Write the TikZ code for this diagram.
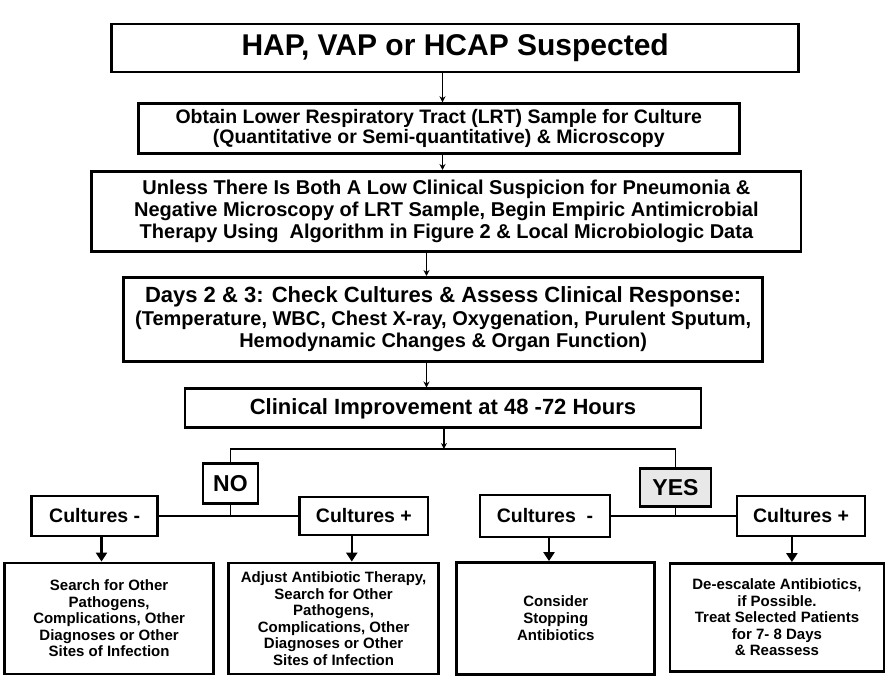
\documentclass[tikz,border=0pt]{standalone}
\usepackage{fontspec}
\setmainfont{Liberation Sans}
\usetikzlibrary{arrows.meta}
\tikzset{
  fz/.style n args={2}{font=\fontsize{#1}{#2}\selectfont\bfseries},
  box/.style={draw, line width=2.8pt, align=center, inner sep=1pt},
  conn/.style={line width=1.6pt},
  tip/.style={-{Stealth[length=6pt,width=6pt]}},
  bigarrow/.style={line width=2.6pt, -{Triangle[width=11pt,length=9pt]}},
}
\begin{document}
\begin{tikzpicture}[x=1pt,y=1pt]
\fill[white] (-446.5,-342) rectangle (446.5,342);
\useasboundingbox (-446.5,-342) rectangle (446.5,342);
% main column
\node[box, fz={30}{32}, minimum width=687, minimum height=48] (b1) at (8.7,293.9) {HAP, VAP or HCAP Suspected};
\node[box, fz={19.5}{20.5}, minimum width=601, minimum height=50] (b2) at (-7.7,213.3)
  {Obtain Lower Respiratory Tract (LRT) Sample for Culture\\(Quantitative or Semi-quantitative) \& Microscopy};
\node[box, fz={20}{22}, minimum width=709, minimum height=80] (b3) at (-0.1,130.6)
  {Unless There Is Both A Low Clinical Suspicion for Pneumonia \&\\Negative Microscopy of LRT Sample, Begin Empiric Antimicrobial\\Therapy Using\ \ Algorithm in Figure 2 \& Local Microbiologic Data};
\node[box, fz={20}{22.5}, minimum width=639, minimum height=84] (b4) at (-3.3,22.6)
  {{\fontsize{22}{22.5}\selectfont Days 2 \& 3: Check Cultures \& Assess Clinical Response:}\\(Temperature, WBC, Chest X-ray, Oxygenation, Purulent Sputum,\\Hemodynamic Changes \& Organ Function)};
\node[box, fz={22}{24}, minimum width=516, minimum height=39] (b5) at (-3.5,-66.4) {Clinical Improvement at 48 -72 Hours};
% decision
\node[box, fz={23}{24}, minimum width=55, minimum height=40] (no) at (-216,-141.5) {NO};
\node[box, fz={23}{24}, fill=gray!18, minimum width=71, minimum height=38] (yes) at (229,-145.8) {YES};
% cultures
\node[box, fz={19.5}{20}, minimum width=126, minimum height=40] (cl) at (-351.8,-174) {Cultures -};
\node[box, fz={19.5}{20}, minimum width=128, minimum height=38] (clp) at (-82.6,-174) {Cultures +};
\node[box, fz={19.5}{20}, minimum width=130, minimum height=42] (crm) at (98.5,-174) {Cultures\ \ -};
\node[box, fz={19.5}{20}, minimum width=128, minimum height=40] (crp) at (354.5,-174) {Cultures +};
% outcomes
\node[box, fz={15}{16.5}, minimum width=209, minimum height=111] (sr) at (-337.4,-276.5)
  {Search for Other\\Pathogens,\\Complications, Other\\Diagnoses or Other\\Sites of Infection};
\node[box, fz={15}{16.5}, minimum width=210, minimum height=111] (adj) at (-112.9,-276.5)
  {Adjust Antibiotic Therapy,\\Search for Other\\Pathogens,\\Complications, Other\\Diagnoses or Other\\Sites of Infection};
\node[box, fz={15}{17}, minimum width=198, minimum height=112] (con) at (109.3,-276.5)
  {Consider\\Stopping\\Antibiotics};
\node[box, fz={15}{16.5}, minimum width=214, minimum height=108] (dee) at (330.5,-275.5)
  {De-escalate Antibiotics,\\if Possible.\\Treat Selected Patients\\for 7- 8 Days\\\& Reassess};
% connector coordinates
\coordinate (c12) at (-4,0);
\coordinate (c34) at (-20,0);
\coordinate (jn) at (-2.6,-107);
\coordinate (a1) at (-345,0);
\coordinate (a2) at (-94.7,0);
\coordinate (a3) at (102.5,0);
\coordinate (a4) at (345.4,0);
% main column connectors
\draw[conn, tip] (b1.south -| c12) -- (b2.north -| c12);
\draw[conn, tip] (b2.south -| c12) -- (b3.north -| c12);
\draw[conn, tip] (b3.south -| c34) -- (b4.north -| c34);
\draw[conn, tip] (b4.south -| c34) -- (b5.north -| c34);
\draw[conn, tip] (b5.south -| jn) -- (jn);
\draw[conn] (no.north) |- (jn) -| (yes.north);
% branches
\draw[conn] (cl.east) -- (clp.west);
\draw[conn] (no.south) -- (no.south |- cl.east);
\draw[conn] (crm.east) -- (crp.west);
\draw[conn] (yes.south) -- (yes.south |- crm.east);
% outcome arrows
\draw[bigarrow] (cl.south -| a1) -- (sr.north -| a1);
\draw[bigarrow] (clp.south -| a2) -- (adj.north -| a2);
\draw[bigarrow] (crm.south -| a3) -- (con.north -| a3);
\draw[bigarrow] (crp.south -| a4) -- (dee.north -| a4);
\end{tikzpicture}
\end{document}
